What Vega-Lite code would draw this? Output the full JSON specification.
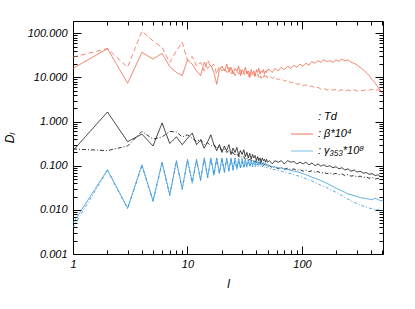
{
  "$schema": "https://vega.github.io/schema/vega-lite/v6.json",
  "width": 310,
  "height": 233,
  "autosize": "none",
  "padding": {"left": 73, "top": 21, "right": 32, "bottom": 55},
  "config": {"font": "Liberation Sans", "view": {"stroke": null}},
  "data": {"values": [
    {"l":1,"rs":16,"rd":29,"ks":0.22,"kd":0.24,"bs":0.005,"bd":0.004},
    {"l":2,"rs":45,"rd":45,"ks":1.65,"kd":0.22,"bs":0.081,"bd":0.078},
    {"l":3,"rs":7.4,"rd":17,"ks":0.35,"kd":0.28,"bs":0.011,"bd":0.0105},
    {"l":4,"rs":37,"rd":112,"ks":0.52,"kd":0.6,"bs":0.105,"bd":0.1},
    {"l":5,"rs":26,"rd":67,"ks":0.28,"kd":0.4,"bs":0.016,"bd":0.0155},
    {"l":6,"rs":35,"rd":48,"ks":0.93,"kd":0.45,"bs":0.12,"bd":0.115},
    {"l":7,"rs":17.5,"rd":22,"ks":0.32,"kd":0.6,"bs":0.022,"bd":0.021},
    {"l":8,"rs":13,"rd":40,"ks":0.45,"kd":0.58,"bs":0.13,"bd":0.125},
    {"l":9,"rs":11,"rd":63,"ks":0.3,"kd":0.45,"bs":0.03,"bd":0.029},
    {"l":10,"rs":25,"rd":24,"ks":0.42,"kd":0.5,"bs":0.14,"bd":0.13},
    {"l":11,"rs":20,"rd":30,"ks":0.55,"kd":0.42,"bs":0.042,"bd":0.04},
    {"l":12,"rs":14,"rd":18,"ks":0.3,"kd":0.35,"bs":0.14,"bd":0.13},
    {"l":13,"rs":11,"rd":22,"ks":0.38,"kd":0.4,"bs":0.048,"bd":0.046},
    {"l":14,"rs":22,"rd":14,"ks":0.25,"kd":0.3,"bs":0.15,"bd":0.14},
    {"l":15,"rs":16,"rd":25,"ks":0.35,"kd":0.33,"bs":0.055,"bd":0.053},
    {"l":16,"rs":19,"rd":17,"ks":0.5,"kd":0.28,"bs":0.15,"bd":0.14},
    {"l":17,"rs":13,"rd":20,"ks":0.3,"kd":0.3,"bs":0.062,"bd":0.06},
    {"l":18,"rs":7,"rd":12,"ks":0.22,"kd":0.25,"bs":0.15,"bd":0.14},
    {"l":19,"rs":15,"rd":18,"ks":0.3,"kd":0.27,"bs":0.068,"bd":0.065},
    {"l":20,"rs":18,"rd":14,"ks":0.2,"kd":0.22,"bs":0.15,"bd":0.14},
    {"l":21,"rs":14,"rd":16,"ks":0.28,"kd":0.24,"bs":0.072,"bd":0.07},
    {"l":22,"rs":20,"rd":13,"ks":0.22,"kd":0.2,"bs":0.15,"bd":0.14},
    {"l":23,"rs":13,"rd":17,"ks":0.3,"kd":0.22,"bs":0.078,"bd":0.075},
    {"l":24,"rs":17,"rd":12,"ks":0.18,"kd":0.19,"bs":0.15,"bd":0.14},
    {"l":25,"rs":12,"rd":15,"ks":0.25,"kd":0.2,"bs":0.082,"bd":0.079},
    {"l":26,"rs":16,"rd":11,"ks":0.2,"kd":0.17,"bs":0.15,"bd":0.135},
    {"l":27,"rs":14,"rd":14,"ks":0.26,"kd":0.19,"bs":0.086,"bd":0.082},
    {"l":28,"rs":18,"rd":12,"ks":0.17,"kd":0.16,"bs":0.145,"bd":0.13},
    {"l":29,"rs":11,"rd":15,"ks":0.22,"kd":0.17,"bs":0.09,"bd":0.085},
    {"l":30,"rs":15,"rd":11,"ks":0.18,"kd":0.15,"bs":0.145,"bd":0.13},
    {"l":31,"rs":13,"rd":13,"ks":0.23,"kd":0.16,"bs":0.093,"bd":0.088},
    {"l":32,"rs":17,"rd":11,"ks":0.16,"kd":0.14,"bs":0.14,"bd":0.125},
    {"l":33,"rs":12,"rd":14,"ks":0.2,"kd":0.15,"bs":0.096,"bd":0.09},
    {"l":34,"rs":14,"rd":10.5,"ks":0.15,"kd":0.13,"bs":0.14,"bd":0.12},
    {"l":35,"rs":10,"rd":13,"ks":0.19,"kd":0.14,"bs":0.1,"bd":0.093},
    {"l":36,"rs":15,"rd":11,"ks":0.14,"kd":0.13,"bs":0.135,"bd":0.118},
    {"l":37,"rs":12,"rd":12.5,"ks":0.18,"kd":0.135,"bs":0.102,"bd":0.094},
    {"l":38,"rs":14,"rd":10,"ks":0.15,"kd":0.12,"bs":0.13,"bd":0.115},
    {"l":39,"rs":11,"rd":12,"ks":0.17,"kd":0.13,"bs":0.104,"bd":0.095},
    {"l":40,"rs":15,"rd":10.5,"ks":0.13,"kd":0.115,"bs":0.13,"bd":0.112},
    {"l":41,"rs":13,"rd":12,"ks":0.16,"kd":0.125,"bs":0.105,"bd":0.095},
    {"l":42,"rs":16,"rd":10,"ks":0.13,"kd":0.11,"bs":0.125,"bd":0.108},
    {"l":43,"rs":12,"rd":11.5,"ks":0.15,"kd":0.12,"bs":0.106,"bd":0.095},
    {"l":44,"rs":14,"rd":9.5,"ks":0.12,"kd":0.105,"bs":0.122,"bd":0.105},
    {"l":45,"rs":13,"rd":11,"ks":0.15,"kd":0.115,"bs":0.106,"bd":0.094},
    {"l":46,"rs":15,"rd":10,"ks":0.13,"kd":0.1,"bs":0.12,"bd":0.102},
    {"l":47,"rs":12,"rd":11.5,"ks":0.14,"kd":0.11,"bs":0.105,"bd":0.093},
    {"l":48,"rs":14,"rd":9.5,"ks":0.12,"kd":0.1,"bs":0.115,"bd":0.098},
    {"l":49,"rs":13,"rd":11,"ks":0.14,"kd":0.105,"bs":0.104,"bd":0.091},
    {"l":50,"rs":15,"rd":10,"ks":0.12,"kd":0.095,"bs":0.11,"bd":0.094},
    {"l":52,"rs":15,"rd":11,"ks":0.13,"kd":0.1,"bs":0.1,"bd":0.088},
    {"l":55,"rs":13,"rd":9.5,"ks":0.11,"kd":0.09,"bs":0.095,"bd":0.084},
    {"l":58,"rs":16,"rd":10.5,"ks":0.13,"kd":0.095,"bs":0.094,"bd":0.081},
    {"l":62,"rs":14,"rd":8.8,"ks":0.12,"kd":0.085,"bs":0.09,"bd":0.078},
    {"l":66,"rs":17,"rd":9.6,"ks":0.13,"kd":0.092,"bs":0.088,"bd":0.075},
    {"l":70,"rs":15,"rd":8.2,"ks":0.11,"kd":0.083,"bs":0.085,"bd":0.072},
    {"l":75,"rs":18,"rd":8.8,"ks":0.13,"kd":0.088,"bs":0.082,"bd":0.069},
    {"l":80,"rs":16,"rd":7.5,"ks":0.12,"kd":0.08,"bs":0.079,"bd":0.066},
    {"l":85,"rs":19,"rd":8,"ks":0.125,"kd":0.085,"bs":0.076,"bd":0.063},
    {"l":90,"rs":17,"rd":7,"ks":0.11,"kd":0.078,"bs":0.073,"bd":0.06},
    {"l":96,"rs":20,"rd":7.2,"ks":0.12,"kd":0.082,"bs":0.07,"bd":0.057},
    {"l":102,"rs":18,"rd":6.5,"ks":0.11,"kd":0.075,"bs":0.066,"bd":0.054},
    {"l":108,"rs":21,"rd":6.8,"ks":0.12,"kd":0.08,"bs":0.063,"bd":0.051},
    {"l":115,"rs":19,"rd":6.1,"ks":0.105,"kd":0.073,"bs":0.059,"bd":0.048},
    {"l":122,"rs":23,"rd":6.4,"ks":0.115,"kd":0.077,"bs":0.055,"bd":0.045},
    {"l":130,"rs":21,"rd":5.8,"ks":0.1,"kd":0.07,"bs":0.052,"bd":0.042},
    {"l":138,"rs":24,"rd":6,"ks":0.11,"kd":0.074,"bs":0.049,"bd":0.039},
    {"l":146,"rs":22,"rd":5.4,"ks":0.098,"kd":0.068,"bs":0.046,"bd":0.036},
    {"l":155,"rs":25,"rd":5.7,"ks":0.105,"kd":0.071,"bs":0.043,"bd":0.034},
    {"l":165,"rs":23,"rd":5.2,"ks":0.095,"kd":0.066,"bs":0.04,"bd":0.032},
    {"l":175,"rs":24,"rd":5.5,"ks":0.1,"kd":0.069,"bs":0.037,"bd":0.029},
    {"l":186,"rs":22,"rd":5.1,"ks":0.09,"kd":0.064,"bs":0.034,"bd":0.027},
    {"l":198,"rs":25,"rd":5.4,"ks":0.095,"kd":0.067,"bs":0.031,"bd":0.025},
    {"l":210,"rs":23,"rd":5,"ks":0.085,"kd":0.062,"bs":0.029,"bd":0.023},
    {"l":223,"rs":26,"rd":5.3,"ks":0.09,"kd":0.065,"bs":0.027,"bd":0.021},
    {"l":237,"rs":24,"rd":4.9,"ks":0.08,"kd":0.06,"bs":0.025,"bd":0.019},
    {"l":252,"rs":25,"rd":5.2,"ks":0.085,"kd":0.063,"bs":0.023,"bd":0.0175},
    {"l":268,"rs":22,"rd":5,"ks":0.075,"kd":0.058,"bs":0.022,"bd":0.016},
    {"l":285,"rs":21,"rd":5.3,"ks":0.08,"kd":0.06,"bs":0.021,"bd":0.0148},
    {"l":303,"rs":19,"rd":4.9,"ks":0.072,"kd":0.056,"bs":0.02,"bd":0.0138},
    {"l":322,"rs":17,"rd":5.2,"ks":0.075,"kd":0.058,"bs":0.019,"bd":0.013},
    {"l":342,"rs":15,"rd":5,"ks":0.068,"kd":0.054,"bs":0.0185,"bd":0.0122},
    {"l":363,"rs":13,"rd":5.3,"ks":0.07,"kd":0.056,"bs":0.018,"bd":0.0116},
    {"l":386,"rs":11,"rd":5.1,"ks":0.064,"kd":0.052,"bs":0.0175,"bd":0.011},
    {"l":410,"rs":9,"rd":5.4,"ks":0.066,"kd":0.054,"bs":0.017,"bd":0.0106},
    {"l":435,"rs":7.5,"rd":5.1,"ks":0.06,"kd":0.05,"bs":0.0185,"bd":0.0103},
    {"l":462,"rs":6,"rd":5.3,"ks":0.062,"kd":0.052,"bs":0.017,"bd":0.01},
    {"l":490,"rs":4.8,"rd":5,"ks":0.056,"kd":0.048,"bs":0.016,"bd":0.0098},
    {"l":510,"rs":4.2,"rd":4.6,"ks":0.058,"kd":0.047,"bs":0.0165,"bd":0.0095}
  ]},
  "layer": [
    {
      "transform": [{"fold": ["rs","rd","ks","kd","bs","bd"], "as": ["key","v"]}],
      "mark": {"type": "line", "strokeWidth": 0.8, "clip": true},
      "encoding": {
        "x": {"field": "l", "type": "quantitative",
          "scale": {"type": "log", "domain": [1, 510], "nice": false},
          "axis": {"orient": "bottom", "grid": false,
            "values": [1,2,3,4,5,6,7,8,9,10,20,30,40,50,60,70,80,90,100,200,300,400,500],
            "labelExpr": "abs(log(datum.value)/LN10 - round(log(datum.value)/LN10)) < 1e-6 ? format(datum.value, 'd') : ''",
            "tickSize": {"condition": {"test": "abs(log(datum.value)/LN10 - round(log(datum.value)/LN10)) < 1e-6", "value": -8}, "value": -4},
            "tickColor": "black", "domainColor": "black", "labelColor": "black",
            "labelFontStyle": "italic", "labelFontSize": 11, "labelPadding": 12,
            "labelFlush": false, "labelOverlap": false,
            "title": "l", "titleFontStyle": "italic", "titleFontWeight": "normal", "titleFontSize": 12, "titleColor": "black", "titlePadding": 5}},
        "y": {"field": "v", "type": "quantitative",
          "scale": {"type": "log", "domain": [0.001, 190], "nice": false},
          "axis": {"orient": "left", "grid": false,
            "values": [0.001,0.002,0.003,0.004,0.005,0.006,0.007,0.008,0.009,0.01,0.02,0.03,0.04,0.05,0.06,0.07,0.08,0.09,0.1,0.2,0.3,0.4,0.5,0.6,0.7,0.8,0.9,1,2,3,4,5,6,7,8,9,10,20,30,40,50,60,70,80,90,100],
            "labelExpr": "abs(log(datum.value)/LN10 - round(log(datum.value)/LN10)) < 1e-6 ? format(datum.value, '.3f') : ''",
            "tickSize": {"condition": {"test": "abs(log(datum.value)/LN10 - round(log(datum.value)/LN10)) < 1e-6", "value": -8}, "value": -4},
            "tickColor": "black", "domainColor": "black", "labelColor": "black",
            "labelFontStyle": "italic", "labelFontSize": 11, "labelPadding": 14,
            "labelFlush": false, "labelOverlap": false,
            "title": "Dₗ", "titleFontStyle": "italic", "titleFontWeight": "normal", "titleFontSize": 12, "titleColor": "black", "titlePadding": 11}},
        "color": {"field": "key", "type": "nominal",
          "scale": {"domain": ["rs","rd","ks","kd","bs","bd"], "range": ["#f0553a","#f26a50","#000000","#000000","#2b8fd9","#2b8fd9"]},
          "legend": null},
        "strokeDash": {"field": "key", "type": "nominal",
          "scale": {"domain": ["rs","rd","ks","kd","bs","bd"], "range": [[1,0],[5,3],[1,0],[4,2,1,2],[1,0],[3,2,1,2]]},
          "legend": null}
      }
    },
    {
      "data": {"values": [
        {"l": 1, "v": 1, "lg": ": Td"},
        {"l": 1, "v": 1, "lg": ": β*10⁴"},
        {"l": 1, "v": 1, "lg": ": γ₃₅₃*10⁸"}
      ]},
      "mark": {"type": "line", "strokeWidth": 1.5},
      "encoding": {
        "x": {"field": "l", "type": "quantitative",
          "scale": {"type": "log", "domain": [1, 510], "nice": false},
          "axis": {"orient": "top", "grid": false, "labels": false, "title": null,
            "values": [1,2,3,4,5,6,7,8,9,10,20,30,40,50,60,70,80,90,100,200,300,400,500],
            "tickSize": {"condition": {"test": "abs(log(datum.value)/LN10 - round(log(datum.value)/LN10)) < 1e-6", "value": -8}, "value": -4},
            "tickColor": "black", "domainColor": "black"}},
        "y": {"field": "v", "type": "quantitative",
          "scale": {"type": "log", "domain": [0.001, 190], "nice": false},
          "axis": {"orient": "right", "grid": false, "labels": false, "title": null,
            "values": [0.001,0.002,0.003,0.004,0.005,0.006,0.007,0.008,0.009,0.01,0.02,0.03,0.04,0.05,0.06,0.07,0.08,0.09,0.1,0.2,0.3,0.4,0.5,0.6,0.7,0.8,0.9,1,2,3,4,5,6,7,8,9,10,20,30,40,50,60,70,80,90,100],
            "tickSize": {"condition": {"test": "abs(log(datum.value)/LN10 - round(log(datum.value)/LN10)) < 1e-6", "value": -8}, "value": -4},
            "tickColor": "black", "domainColor": "black"}},
        "color": {"field": "lg", "type": "nominal",
          "scale": {"domain": [": Td", ": β*10⁴", ": γ₃₅₃*10⁸"], "range": ["#ffffff", "#f6a08e", "#a6d2ee"]},
          "legend": {"orient": "none", "legendX": 217, "legendY": 84, "title": null,
            "symbolType": "stroke", "symbolSize": 480, "symbolStrokeWidth": 1.5,
            "labelFontSize": 11, "labelFontStyle": "italic", "labelColor": "black",
            "labelOffset": 4, "rowPadding": -14, "labelLimit": 200}}
      }
    }
  ],
  "resolve": {"scale": {"color": "independent"}, "axis": {"x": "independent", "y": "independent"}}
}
